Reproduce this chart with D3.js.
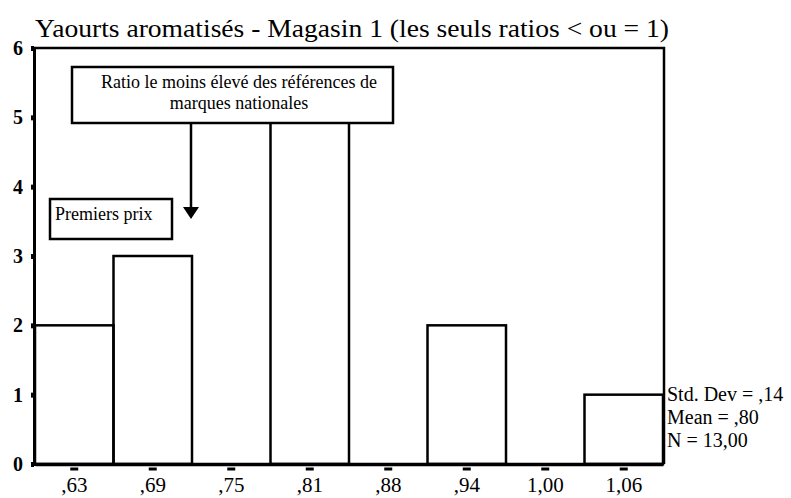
<!DOCTYPE html>
<html>
<head>
<meta charset="utf-8">
<script src="https://cdn.jsdelivr.net/npm/d3@7"></script>
<style>
  body { margin: 0; background: #fff; }
  svg text { font-family: "Liberation Serif", "Times New Roman", serif !important; fill: #000; }
</style>
</head>
<body>
<div class="chart"></div>
<script>
// histogram bins (ratio centres) and counts
var bins = [',63', ',69', ',75', ',81', ',88', ',94', '1,00', '1,06'];
var counts = [2, 3, 0, 5, 0, 2, 0, 1];
var yTicks = [0, 1, 2, 3, 4, 5, 6];
var stats = ['Std. Dev = ,14', 'Mean = ,80', 'N = 13,00'];
var title = 'Yaourts aromatisés - Magasin 1 (les seuls ratios < ou = 1)';

var W = 791, H = 498;
var svg = d3.select('.chart')
  .append('svg')
    .attr('width', W)
    .attr('height', H);

var x = d3.scaleBand().domain(bins).range([35, 663]).paddingInner(0).paddingOuter(0);
var y = d3.scaleLinear().domain([0, 6]).range([464, 48]);

// title
svg.append('text')
  .attr('x', 35)
  .attr('y', 37)
  .attr('font-size', 26)
  .attr('textLength', 634)
  .attr('lengthAdjust', 'spacingAndGlyphs')
  .text(title);

// frame (top and right)
svg.append('path')
  .attr('d', 'M' + 33 + ',' + y(6) + 'H' + 664 + 'V' + y(0))
  .attr('fill', 'none')
  .attr('stroke', '#000')
  .attr('stroke-width', 2.5);

// bars
svg.selectAll('rect.bar')
  .data(counts)
  .enter()
  .append('rect')
    .attr('class', 'bar')
    .attr('x', (d, i) => x(bins[i]))
    .attr('width', x.bandwidth())
    .attr('y', d => y(d))
    .attr('height', d => y(0) - y(d))
    .attr('fill', 'none')
    .attr('stroke', '#000')
    .attr('stroke-width', 2.5);

// y axis
var yAxis = svg.append('g')
  .attr('transform', 'translate(34,0)')
  .call(d3.axisLeft(y).tickValues(yTicks).tickFormat(d3.format('d')).tickSize(3).tickPadding(8));
yAxis.select('.domain').attr('stroke-width', 3);
yAxis.selectAll('.tick line').attr('stroke-width', 5);
yAxis.selectAll('.tick text')
  .attr('font-size', 20)
  .attr('font-weight', 'bold');

// x axis
var xAxis = svg.append('g')
  .attr('transform', 'translate(0,' + y(0) + ')')
  .call(d3.axisBottom(x).tickSize(0));
xAxis.select('.domain').attr('stroke-width', 3.5);
xAxis.selectAll('.tick')
  .append('line')
    .attr('x1', -4).attr('x2', 4)
    .attr('y1', 5).attr('y2', 5)
    .attr('stroke', '#000')
    .attr('stroke-width', 3);
xAxis.selectAll('.tick text')
  .attr('y', 28)
  .attr('dy', 0)
  .attr('font-size', 21);

// stats
svg.selectAll('text.stat')
  .data(stats)
  .enter()
  .append('text')
    .attr('class', 'stat')
    .attr('x', 667)
    .attr('y', (d, i) => 401 + i * 23)
    .attr('font-size', 20)
    .text(d => d);

// annotation: national brands
svg.append('rect')
  .attr('x', 72).attr('y', 67)
  .attr('width', 321).attr('height', 56)
  .attr('fill', '#fff')
  .attr('stroke', '#000')
  .attr('stroke-width', 2.5);
svg.append('text')
  .attr('x', 239).attr('y', 88)
  .attr('text-anchor', 'middle')
  .attr('font-size', 18)
  .text('Ratio le moins élevé des références de');
svg.append('text')
  .attr('x', 239).attr('y', 109)
  .attr('text-anchor', 'middle')
  .attr('font-size', 18)
  .text('marques nationales');

// arrow
svg.append('line')
  .attr('x1', 191).attr('x2', 191)
  .attr('y1', 123).attr('y2', 208)
  .attr('stroke', '#000')
  .attr('stroke-width', 2.5);
svg.append('path')
  .attr('d', 'M183,207L199,207L191,219Z')
  .attr('fill', '#000');

// annotation: premiers prix
svg.append('rect')
  .attr('x', 50).attr('y', 199)
  .attr('width', 122).attr('height', 40)
  .attr('fill', '#fff')
  .attr('stroke', '#000')
  .attr('stroke-width', 2.5);
svg.append('text')
  .attr('x', 55).attr('y', 220)
  .attr('font-size', 18)
  .text('Premiers prix');
</script>
</body>
</html>
